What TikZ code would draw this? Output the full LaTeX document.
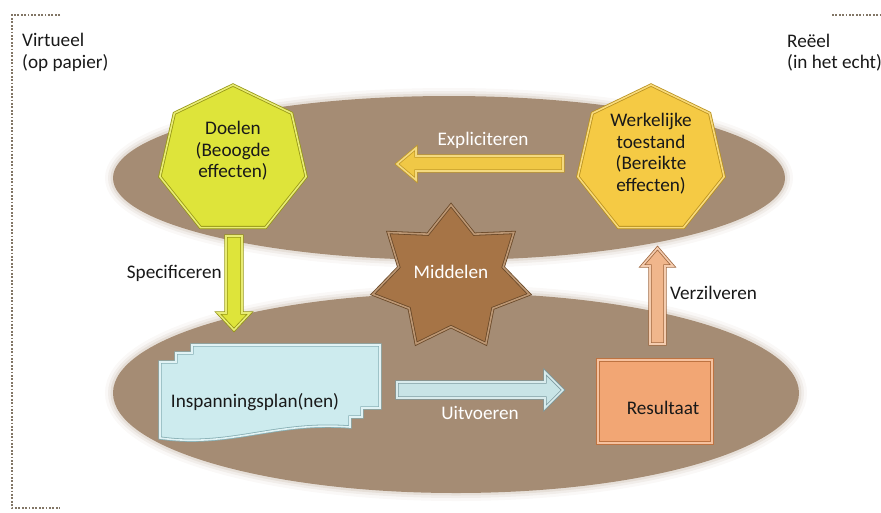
\documentclass[tikz,border=0pt]{standalone}
\usepackage{fontspec}
\setmainfont{Carlito}
\usetikzlibrary{shapes.geometric}
\definecolor{ellbrown}{RGB}{165,140,116}
\definecolor{doelfill}{RGB}{222,228,58}
\definecolor{doeldraw}{RGB}{150,150,20}
\definecolor{werkfill}{RGB}{245,202,68}
\definecolor{werkdraw}{RGB}{185,145,30}
\definecolor{starfill}{RGB}{166,116,70}
\definecolor{stardraw}{RGB}{105,72,40}
\definecolor{explfill}{RGB}{240,200,70}
\definecolor{expldraw}{RGB}{195,155,40}
\definecolor{verzfill}{RGB}{240,182,140}
\definecolor{verzdraw}{RGB}{160,105,65}
\definecolor{uitvfill}{RGB}{200,228,230}
\definecolor{uitvdraw}{RGB}{125,155,160}
\definecolor{planfill}{RGB}{205,235,238}
\definecolor{plandraw}{RGB}{135,175,180}
\definecolor{resfill}{RGB}{242,166,116}
\definecolor{resdraw}{RGB}{190,115,65}
\definecolor{dotcol}{RGB}{130,118,102}
\definecolor{txtdark}{RGB}{25,25,25}
\tikzset{
  lbl/.style={font=\fontsize{19.2}{21.5}\selectfont, text=txtdark, inner sep=0pt},
  wlbl/.style={lbl, text=white},
  bevel/.style={line width=0.8pt, double distance=1.6pt},
  hepta/.style={regular polygon, regular polygon sides=7, minimum size=150pt, inner sep=0pt, bevel},
  dotline/.style={dotcol, line width=2.2pt, dash pattern=on 1.8pt off 1.6pt},
}
\begin{document}
\begin{tikzpicture}[x=1pt,y=-1pt]
\useasboundingbox (0,0) rectangle (881,512);
% dotted frame
\draw[dotline] (60,15) -- (12,15) -- (12,508) -- (60,508);
\draw[dotline] (832,15) -- (881,15);
% ellipses with soft edges
\foreach \w/\o in {16/0.06,10/0.1,5/0.15}{
  \draw[ellbrown, line width=\w pt, opacity=\o] (449,178) ellipse [x radius=336pt, y radius=82pt];
  \draw[ellbrown, line width=\w pt, opacity=\o] (456,393) ellipse [x radius=343pt, y radius=100pt];
}
\fill[ellbrown] (449,178) ellipse [x radius=336pt, y radius=82pt];
\fill[ellbrown] (456,393) ellipse [x radius=343pt, y radius=100pt];
% side labels
\node[lbl, anchor=west, align=left] (virt) at (22,52.5) {Virtueel\\(op papier)};
\node[lbl, anchor=west, align=left] (reeel) at (787,52.5) {Reëel\\(in het echt)};
% heptagons
\node[hepta, fill=doelfill, draw=doeldraw, double=doelfill!70!white] (doel) at (233,160) {};
\node[lbl, align=center] (doeltxt) at (233,151) {Doelen\\(Beoogde\\effecten)};
\node[hepta, fill=werkfill, draw=werkdraw, double=werkfill!70!white] (werk) at (651,160) {};
\node[lbl, align=center] (werktxt) at (651,153.5) {Werkelijke\\toestand\\(Bereikte\\effecten)};
% block arrows
\filldraw[fill=explfill, draw=expldraw, bevel, double=explfill!70!white]
  (563,156) -- (416,156) -- (416,148) -- (397,164) -- (416,180) -- (416,171) -- (563,171) -- cycle;
\node[wlbl] (expl) at (483,140) {Expliciteren};
\filldraw[fill=doelfill, draw=doeldraw, bevel, double=doelfill!70!white]
  (226,236) -- (242,236) -- (242,313) -- (250,313) -- (234,330) -- (218,313) -- (226,313) -- cycle;
\node[lbl, anchor=east] (spec) at (222,273) {Specificeren};
\filldraw[fill=verzfill, draw=verzdraw, bevel, double=verzfill!70!white]
  (650,344) -- (650,266) -- (642,266) -- (657.5,248) -- (673,266) -- (665,266) -- (665,344) -- cycle;
\node[lbl, anchor=west] (verz) at (670,293) {Verzilveren};
\filldraw[fill=uitvfill, draw=uitvdraw, bevel, double=uitvfill!70!white]
  (397,382) -- (545,382) -- (545,372) -- (563,390) -- (545,408) -- (545,398) -- (397,398) -- cycle;
\node[wlbl] (uitv) at (480,413) {Uitvoeren};
% Middelen star
\node[star, star points=7, star point ratio=1.5, minimum size=146pt, inner sep=0pt, xscale=1.1,
  fill=starfill, draw=stardraw, bevel, double=starfill!75!white] (mid) at (451,278) {};
\node[wlbl] (midtxt) at (451,272) {Middelen};
% Inspanningsplan
\filldraw[fill=planfill, draw=plandraw, bevel, double=planfill!60!white]
  (192,345) -- (380,345) -- (380,408) -- (362,408) -- (362,417) -- (350,417) -- (350,427)
  .. controls (275,421) and (230,448) .. (160,438)
  -- (160,362) -- (176,362) -- (176,353) -- (192,353) -- cycle;
\node[lbl] (plan) at (255,402) {Inspanningsplan(nen)};
% Resultaat
\node[draw=resdraw, fill=resfill, bevel, double=resfill!70!white, minimum width=114pt, minimum height=83pt, inner sep=0pt] (res) at (655,401.5) {};
\node[lbl] (restxt) at (663,408) {Resultaat};
\end{tikzpicture}
\end{document}
